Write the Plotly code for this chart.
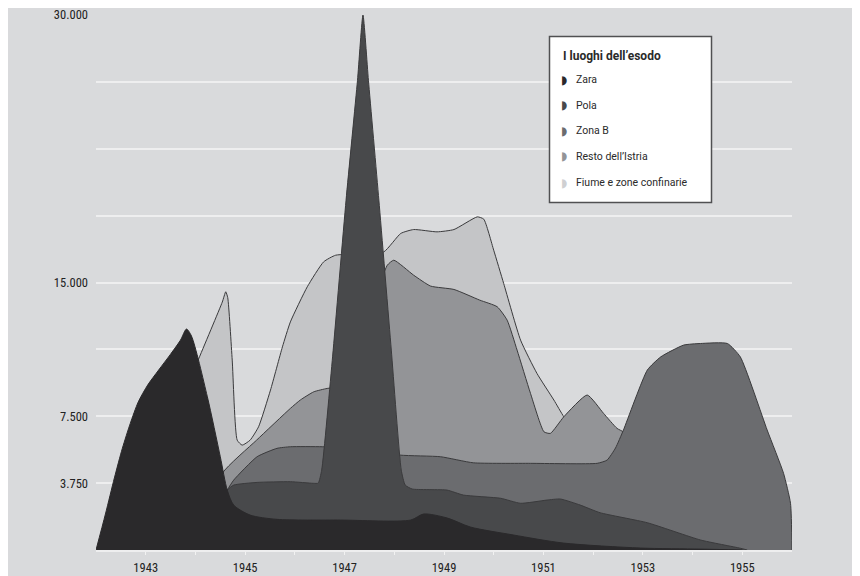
import plotly.graph_objects as go

# ---------------- data ----------------
series_names = ["Zara", "Pola", "Zona B", "Resto dell\u2019Istria", "Fiume e zone confinarie"]

zara_years = [1942.0, 1942.19, 1942.37, 1942.53, 1942.69, 1942.85, 1943.04, 1943.26, 1943.50,
              1943.70, 1943.82, 1943.92, 1944.24, 1944.50, 1944.64, 1944.77, 1945.10, 1945.64,
              1946.92, 1948.33, 1948.59, 1949.07, 1949.53, 1950.40, 1951.40, 1952.95, 1954.16, 1955.0]
zara_values = [0, 2020, 4040, 5700, 7100, 8300, 9250, 10090, 10980,
               11770, 12390, 12000, 8590, 5230, 3360, 2520, 1960, 1720,
               1680, 1680, 2020, 1790, 1290, 840, 390, 110, 50, 0]

pola_years = [1944.0, 1944.64, 1944.77, 1945.24, 1945.91, 1946.37, 1946.47, 1946.54, 1946.76,
              1947.03, 1947.26, 1947.37, 1947.48, 1947.69, 1947.94, 1948.14, 1948.22, 1948.36,
              1949.06, 1949.39, 1950.14, 1950.54, 1951.07, 1951.34, 1951.74, 1952.14, 1953.09,
              1954.16, 1954.96, 1955.1]
pola_values = [0, 3360, 3640, 3790, 3830, 3740, 3750, 4480, 10870,
               19620, 26340, 30000, 26340, 19620, 11210, 4480, 3640, 3420,
               3360, 3080, 2900, 2620, 2800, 2860, 2520, 2090, 1530,
               560, 100, 0]

zonab_years = [1944.0, 1944.64, 1944.77, 1945.24, 1945.64, 1945.91, 1946.55, 1947.2, 1948.12,
               1948.93, 1949.59, 1950.74, 1952.08, 1952.28, 1952.45, 1952.61, 1953.09, 1953.36,
               1953.82, 1954.16, 1954.70, 1954.96, 1955.50, 1955.83, 1955.97, 1956.0]
zonab_values = [0, 3360, 3920, 5230, 5700, 5790, 5790, 5700, 5320,
                5230, 4890, 4860, 4860, 5040, 5720, 6730, 10090, 10830,
                11490, 11580, 11580, 10830, 6730, 4300, 2620, 0]

resto_years = [1944.0, 1944.54, 1945.23, 1945.91, 1946.11, 1946.38, 1946.65, 1947.2, 1947.6,
               1947.86, 1947.99, 1948.39, 1948.73, 1949.20, 1949.72, 1950.07, 1950.27, 1950.47,
               1950.74, 1951.01, 1951.14, 1951.41, 1951.88, 1952.21, 1952.48, 1952.61, 1953.0, 1953.5]
resto_values = [0, 4300, 6160, 7940, 8410, 8870, 9060, 9300, 14000,
                15970, 16250, 15410, 14800, 14610, 14010, 13640, 12890, 11210,
                8780, 6630, 6540, 7470, 8690, 7660, 6820, 6610, 4500, 0]

fiume_years = [1942.5, 1943.0, 1944.04, 1944.54, 1944.61, 1944.65, 1944.74, 1944.84, 1944.94,
               1945.10, 1945.27, 1945.51, 1945.75, 1945.91, 1946.25, 1946.58, 1946.82, 1947.3,
               1947.79, 1948.13, 1948.39, 1948.86, 1949.20, 1949.67, 1949.80, 1950.00, 1950.20,
               1950.54, 1950.87, 1951.21, 1951.41, 1951.8, 1952.5, 1953.0]
fiume_values = [0, 3500, 10550, 13900, 14480, 14150, 10650, 6160, 5880,
                6160, 6910, 8970, 11390, 12790, 14760, 16160, 16530, 16600,
                16720, 17750, 17970, 17840, 17970, 18680, 18550, 16810, 14950,
                11770, 9900, 8410, 7470, 6000, 3500, 0]

x_tick_years = list(range(1943, 1956))
x_tick_labels = [str(y) if y % 2 == 1 else "" for y in x_tick_years]
y_tick_values = [3750, 7500, 11250, 15000, 18750, 22500, 26250, 30000]
y_tick_labels = ["3.750", "7.500", "", "15.000", "", "", "", "30.000"]

legend_title = "I luoghi dell\u2019esodo"

# ---------------- styling ----------------
fill_colors = {
    "Zara": "#2a292b",
    "Pola": "#48494b",
    "Zona B": "#6b6c6f",
    "Resto dell\u2019Istria": "#939497",
    "Fiume e zone confinarie": "#c4c5c7",
}
icon_colors = {
    "Zara": "#2a292b",
    "Pola": "#48494b",
    "Zona B": "#6b6c6f",
    "Resto dell\u2019Istria": "#939497",
    "Fiume e zone confinarie": "#cfd0d2",
}
smooth = {"Zara": 0.75}
outline = "#3a3a3c"
bg = "#d9dadc"
tick_font = "Liberation Sans Narrow, Roboto Condensed, DejaVu Sans Condensed, Liberation Sans, sans-serif"

data = {
    "Zara": (zara_years, zara_values),
    "Pola": (pola_years, pola_values),
    "Zona B": (zonab_years, zonab_values),
    "Resto dell\u2019Istria": (resto_years, resto_values),
    "Fiume e zone confinarie": (fiume_years, fiume_values),
}

fig = go.Figure()
# back to front
for name in reversed(series_names):
    xs, ys = data[name]
    fig.add_trace(go.Scatter(
        x=xs, y=ys, name=name, mode="lines",
        line=dict(color=outline if name != "Zara" else fill_colors[name], width=1,
                  shape="spline", smoothing=smooth.get(name, 0.5)),
        fill="tozeroy", fillcolor=fill_colors[name],
        hoverinfo="skip", showlegend=False, cliponaxis=False,
    ))

# the page body adds an 8px offset; compensate so the plot lands where intended
OFF = 8
W, H = 860 - OFF, 576 - OFF
L, R, T, B = 96 - OFF, 68, 15 - OFF, 26
pw, ph = W - L - R, H - T - B

def px(x):
    return (x - OFF - L) / pw

def py(y):
    return (H - B - (y - OFF)) / ph

# legend box
fig.add_shape(type="rect", xref="paper", yref="paper",
              x0=px(549.5), x1=px(711.5), y0=py(202.5), y1=py(36.5),
              fillcolor="white", line=dict(color="#505052", width=1.5), layer="above")
fig.add_annotation(xref="paper", yref="paper", x=px(561), y=py(55.5),
                   text="<b>" + legend_title + "</b>", showarrow=False,
                   xanchor="left", yanchor="middle",
                   font=dict(family="Roboto", size=12, color="#2a2a2a"))
item_y = [79.5, 105, 130.5, 156.5, 182.5]
for name, yy in zip(series_names, item_y):
    fig.add_annotation(xref="paper", yref="paper", x=px(559), y=py(yy),
                       text="\u25D7", showarrow=False, xanchor="left", yanchor="middle",
                       font=dict(family="DejaVu Sans", size=12, color=icon_colors[name]))
    fig.add_annotation(xref="paper", yref="paper", x=px(573.5), y=py(yy),
                       text=name, showarrow=False, xanchor="left", yanchor="middle",
                       font=dict(family="Roboto", size=10.5, color="#2a2a2a"))

fig.update_layout(
    width=W, height=H,
    margin=dict(l=L, r=R, t=T, b=B, pad=0, autoexpand=False),
    paper_bgcolor=bg, plot_bgcolor=bg,
    showlegend=False,
    font=dict(family=tick_font, size=12, color="#222222"),
)
fig.update_xaxes(
    range=[1942, 1956], tickmode="array", tickvals=x_tick_years, ticktext=x_tick_labels,
    ticks="outside", ticklen=3, tickcolor="#f2f2f2", tickwidth=1,
    showline=True, linecolor="#eeeeef", linewidth=1.5,
    showgrid=False, zeroline=False, layer="above traces", automargin=False,
    ticklabelstandoff=2, ticklabeloverflow="allow",
    tickfont=dict(family=tick_font, size=12.5, color="#222222"),
)
fig.update_yaxes(
    range=[0, 30000], tickmode="array", tickvals=y_tick_values, ticktext=y_tick_labels,
    ticks="", showgrid=True, gridcolor="#eeeeef", gridwidth=1.5,
    zeroline=False, showline=False, layer="below traces", automargin=False,
    ticklabelstandoff=7, ticklabeloverflow="allow",
    tickfont=dict(family=tick_font, size=12.5, color="#222222"),
)

fig.write_html("out.html")
